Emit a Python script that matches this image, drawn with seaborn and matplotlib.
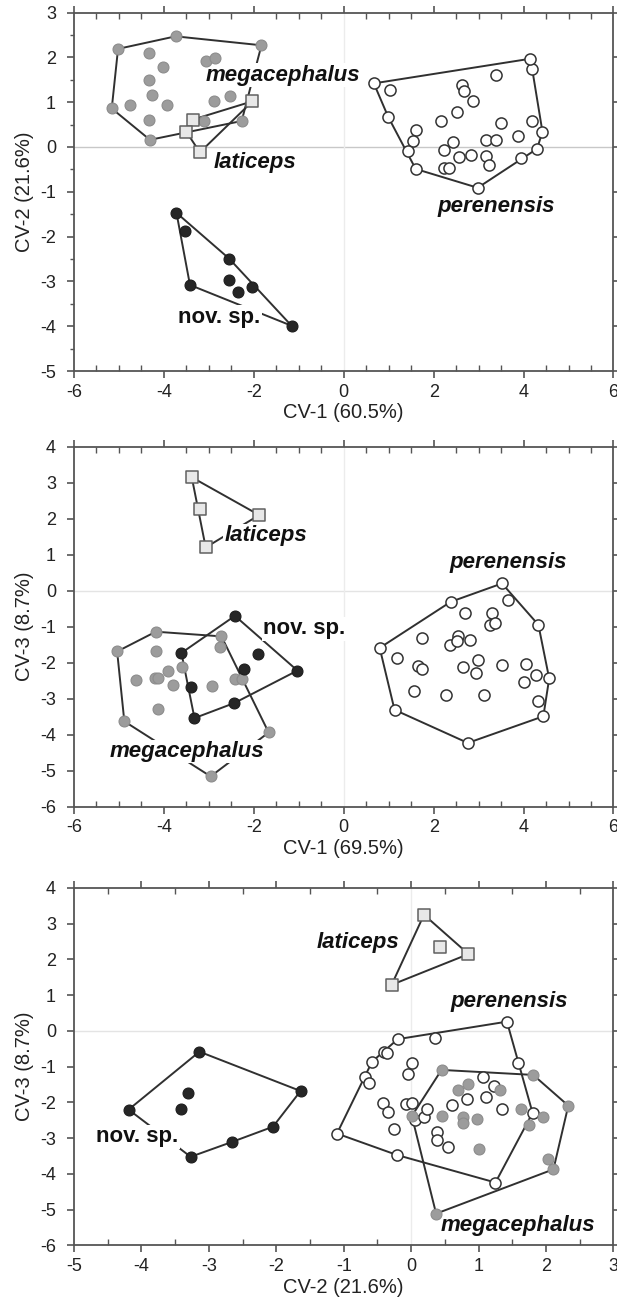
import numpy as np
import pandas as pd
import matplotlib
matplotlib.use('Agg')
import matplotlib.pyplot as plt
from matplotlib.ticker import MultipleLocator
import seaborn as sns

# ---- panel 1: CV-1 vs CV-2 ----
p1_mega_x = [-5.02, -3.74, -1.83, -5.16, -4.31, -4.33, -4.03, -4.33, -4.27, -4.76, -3.92, -4.33,
             -3.07, -2.87, -2.89, -2.53, -3.11, -2.27]
p1_mega_y = [2.19, 2.47, 2.27, 0.86, 0.16, 2.10, 1.79, 1.50, 1.16, 0.93, 0.93, 0.60,
             1.91, 1.98, 1.02, 1.13, 0.58, 0.58]
p1_lati_x = [-3.36, -3.50, -3.20, -2.03]
p1_lati_y = [0.61, 0.34, -0.12, 1.02]
p1_nov_x = [-3.72, -3.53, -2.55, -2.55, -2.35, -2.03, -3.42, -1.16]
p1_nov_y = [-1.47, -1.87, -2.49, -2.96, -3.23, -3.13, -3.08, -3.99]
p1_pere_x = [0.67, 1.04, 0.99, 1.61, 1.54, 1.43, 1.60, 2.98, 3.95, 4.30, 4.42, 4.18, 4.19, 4.15,
             3.38, 2.64, 2.67, 2.87, 2.53, 2.17, 3.49, 3.87, 2.43, 2.22, 3.16, 3.39, 2.82, 2.56,
             3.16, 3.24, 2.24, 2.34]
p1_pere_y = [1.42, 1.27, 0.67, 0.38, 0.13, -0.10, -0.49, -0.91, -0.25, -0.04, 0.34, 0.59, 1.75, 1.97,
             1.60, 1.39, 1.24, 1.02, 0.79, 0.58, 0.53, 0.24, 0.12, -0.06, 0.16, 0.16, -0.18, -0.23,
             -0.19, -0.41, -0.47, -0.47]

# ---- panel 2: CV-1 vs CV-3 ----
p2_mega_x = [-4.18, -5.04, -4.88, -2.96, -1.67, -2.72, -2.76, -4.18, -3.60, -3.90, -4.62, -4.20,
             -4.14, -3.79, -2.94, -2.41, -2.27, -4.14]
p2_mega_y = [-1.14, -1.69, -3.63, -5.16, -3.94, -1.27, -1.57, -1.69, -2.11, -2.22, -2.47, -2.43,
             -2.43, -2.62, -2.66, -2.45, -2.45, -3.29]
p2_lati_x = [-3.38, -3.20, -1.88, -3.07]
p2_lati_y = [3.15, 2.27, 2.10, 1.20]
p2_nov_x = [-2.42, -3.61, -1.91, -1.03, -2.21, -3.39, -2.43, -3.32]
p2_nov_y = [-0.70, -1.73, -1.76, -2.22, -2.19, -2.69, -3.12, -3.54]
p2_pere_x = [3.52, 2.38, 0.80, 1.13, 2.76, 4.44, 4.57, 4.33, 3.65, 2.70, 3.30, 3.25, 3.36, 1.75,
             2.36, 2.55, 2.51, 2.80, 1.18, 1.66, 1.75, 2.66, 2.99, 2.95, 3.51, 4.06, 4.28, 4.02,
             4.32, 1.57, 2.27, 3.12]
p2_pere_y = [0.20, -0.31, -1.59, -3.31, -4.23, -3.49, -2.44, -0.95, -0.26, -0.62, -0.63, -0.95, -0.91, -1.31,
             -1.50, -1.27, -1.41, -1.36, -1.87, -2.10, -2.18, -2.11, -1.92, -2.29, -2.06, -2.04, -2.33, -2.55,
             -3.07, -2.80, -2.89, -2.89]

# ---- panel 3: CV-2 vs CV-3 ----
p3_mega_x = [0.45, 1.81, 2.33, 2.11, 2.03, 0.37, 0.01, 0.69, 0.85, 1.32, 0.45, 0.77, 0.77, 0.97,
             1.00, 1.63, 1.74, 1.95]
p3_mega_y = [-1.09, -1.23, -2.09, -3.87, -3.59, -5.11, -2.38, -1.65, -1.49, -1.65, -2.38, -2.42, -2.57, -2.45,
             -3.29, -2.19, -2.63, -2.40]
p3_lati_x = [0.19, 0.43, 0.85, -0.29]
p3_lati_y = [3.25, 2.36, 2.15, 1.29]
p3_nov_x = [-3.14, -1.64, -2.05, -2.65, -3.27, -4.19, -3.31, -3.41]
p3_nov_y = [-0.58, -1.68, -2.68, -3.10, -3.52, -2.20, -1.73, -2.17]
p3_pere_x = [1.42, -0.20, 0.36, -0.41, -0.36, -0.58, 0.01, 1.59, -0.05, -0.68, -0.63, -1.10, -0.21, 1.25,
             1.80, -0.42, -0.34, -0.26, -0.07, 0.01, 0.06, 0.19, 0.23, 0.39, 0.39, 0.54, 0.60, 0.83,
             1.06, 1.11, 1.23, 1.34]
p3_pere_y = [0.26, -0.23, -0.20, -0.58, -0.62, -0.86, -0.89, -0.89, -1.21, -1.30, -1.45, -2.87, -3.47, -4.24,
             -2.29, -2.01, -2.26, -2.75, -2.05, -2.01, -2.49, -2.40, -2.17, -2.82, -3.05, -3.26, -2.07, -1.89,
             -1.30, -1.84, -1.53, -2.19]

styles = {
    'perenensis': dict(marker='o', color='white', edgecolor='#333333', s=64, linewidth=1.1, zorder=4),
    'megacephalus': dict(marker='o', color='#9c9c9c', edgecolor='#8c8c8c', s=62, linewidth=0.8, zorder=5),
    'nov. sp.': dict(marker='o', color='#262626', edgecolor='#1c1c1c', s=62, linewidth=0.8, zorder=6),
    'laticeps': dict(marker='s', color='#e8e8e8', edgecolor='#606060', s=84, linewidth=1.1, zorder=7),
}

panels = [
    dict(data={'perenensis': (p1_pere_x, p1_pere_y), 'megacephalus': (p1_mega_x, p1_mega_y),
               'nov. sp.': (p1_nov_x, p1_nov_y), 'laticeps': (p1_lati_x, p1_lati_y)},
         labels={'megacephalus': (-1.36, 1.60), 'laticeps': (-1.98, -0.34),
                 'nov. sp.': (-2.77, -3.80), 'perenensis': (3.39, -1.33)},
         xlim=(-6, 6), ylim=(-5, 3), xmaj=2, ymin=0.5,
         xlabel='CV-1 (60.5%)', ylabel='CV-2 (21.6%)', hcol='#c8c8c8',
         rect=[0.1199, 0.7170, 0.8744, 0.2734]),
    dict(data={'perenensis': (p2_pere_x, p2_pere_y), 'megacephalus': (p2_mega_x, p2_mega_y),
               'nov. sp.': (p2_nov_x, p2_nov_y), 'laticeps': (p2_lati_x, p2_lati_y)},
         labels={'laticeps': (-1.73, 1.53), 'nov. sp.': (-0.88, -1.06),
                 'perenensis': (3.65, 0.77), 'megacephalus': (-3.48, -4.47)},
         xlim=(-6, 6), ylim=(-6, 4), xmaj=2, ymin=None,
         xlabel='CV-1 (69.5%)', ylabel='CV-3 (8.7%)', hcol='#e4e4e4',
         rect=[0.1199, 0.3847, 0.8744, 0.2746]),
    dict(data={'perenensis': (p3_pere_x, p3_pere_y), 'megacephalus': (p3_mega_x, p3_mega_y),
               'nov. sp.': (p3_nov_x, p3_nov_y), 'laticeps': (p3_lati_x, p3_lati_y)},
         labels={'laticeps': (-0.79, 2.46), 'perenensis': (1.45, 0.82),
                 'nov. sp.': (-4.06, -2.96), 'megacephalus': (1.58, -5.43)},
         xlim=(-5, 3), ylim=(-6, 4), xmaj=1, ymin=None,
         xlabel='CV-2 (21.6%)', ylabel='CV-3 (8.7%)', hcol='#e4e4e4',
         rect=[0.1199, 0.0500, 0.8744, 0.2727]),
]


def convex_hull(xs, ys):
    pts = sorted(set(zip(xs, ys)))

    def cross(o, a, b):
        return (a[0] - o[0]) * (b[1] - o[1]) - (a[1] - o[1]) * (b[0] - o[0])

    lower, upper = [], []
    for p in pts:
        while len(lower) >= 2 and cross(lower[-2], lower[-1], p) <= 0:
            lower.pop()
        lower.append(p)
    for p in reversed(pts):
        while len(upper) >= 2 and cross(upper[-2], upper[-1], p) <= 0:
            upper.pop()
        upper.append(p)
    hull = lower[:-1] + upper[:-1]
    hull.append(hull[0])
    return [p[0] for p in hull], [p[1] for p in hull]


sns.set_theme(style='white')
plt.rcParams['font.family'] = ['Liberation Sans', 'DejaVu Sans']
plt.rcParams['axes.unicode_minus'] = False

fig = plt.figure(figsize=(6.17, 13.11), dpi=100)

for pan in panels:
    ax = fig.add_axes(pan['rect'])
    ax.axhline(0, color=pan['hcol'], lw=1.0, zorder=0)
    ax.axvline(0, color='#ececec', lw=1.0, zorder=0)

    for name, (xs, ys) in pan['data'].items():
        hx, hy = convex_hull(xs, ys)
        ax.plot(hx, hy, color='#303030', lw=1.4, zorder=2, solid_joinstyle='round')
        st = styles[name]
        sns.scatterplot(x=xs, y=ys, marker=st['marker'], color=st['color'], edgecolor=st['edgecolor'],
                        s=st['s'], linewidth=st['linewidth'], zorder=st['zorder'], ax=ax, legend=False)

    for name, (tx, ty) in pan['labels'].items():
        style = 'normal' if name == 'nov. sp.' else 'italic'
        ax.text(tx, ty, name, ha='center', va='center', fontsize=16, fontweight='bold', fontstyle=style,
                color='#111111', zorder=3,
                bbox=dict(facecolor='white', edgecolor='none', pad=1.0))

    ax.set_xlim(pan['xlim'])
    ax.set_ylim(pan['ylim'])
    ax.xaxis.set_major_locator(MultipleLocator(pan['xmaj']))
    ax.xaxis.set_minor_locator(MultipleLocator(0.5))
    ax.yaxis.set_major_locator(MultipleLocator(1))
    if pan['ymin']:
        ax.yaxis.set_minor_locator(MultipleLocator(pan['ymin']))
    ax.tick_params(axis='x', which='major', direction='out', length=5, width=1.2, top=True, bottom=True,
                   labelsize=13, pad=4, color='#555555', labelcolor='#222222')
    ax.tick_params(axis='x', which='minor', direction='in', length=4, width=1.0, top=True, bottom=True,
                   color='#555555')
    ax.tick_params(axis='y', which='major', direction='out', length=5, width=1.2, left=True, right=True,
                   labelsize=13, pad=8, color='#555555', labelcolor='#222222')
    ax.tick_params(axis='y', which='minor', direction='out', length=3, width=1.0, left=True, right=False,
                   color='#555555')
    for sp in ax.spines.values():
        sp.set_color('#555555')
        sp.set_linewidth(1.3)
    ax.set_xlabel(pan['xlabel'], fontsize=14.5, color='#222222', labelpad=2)
    ax.set_ylabel(pan['ylabel'], fontsize=14.5, color='#222222', labelpad=4)

fig.savefig('out.png', dpi=100)
